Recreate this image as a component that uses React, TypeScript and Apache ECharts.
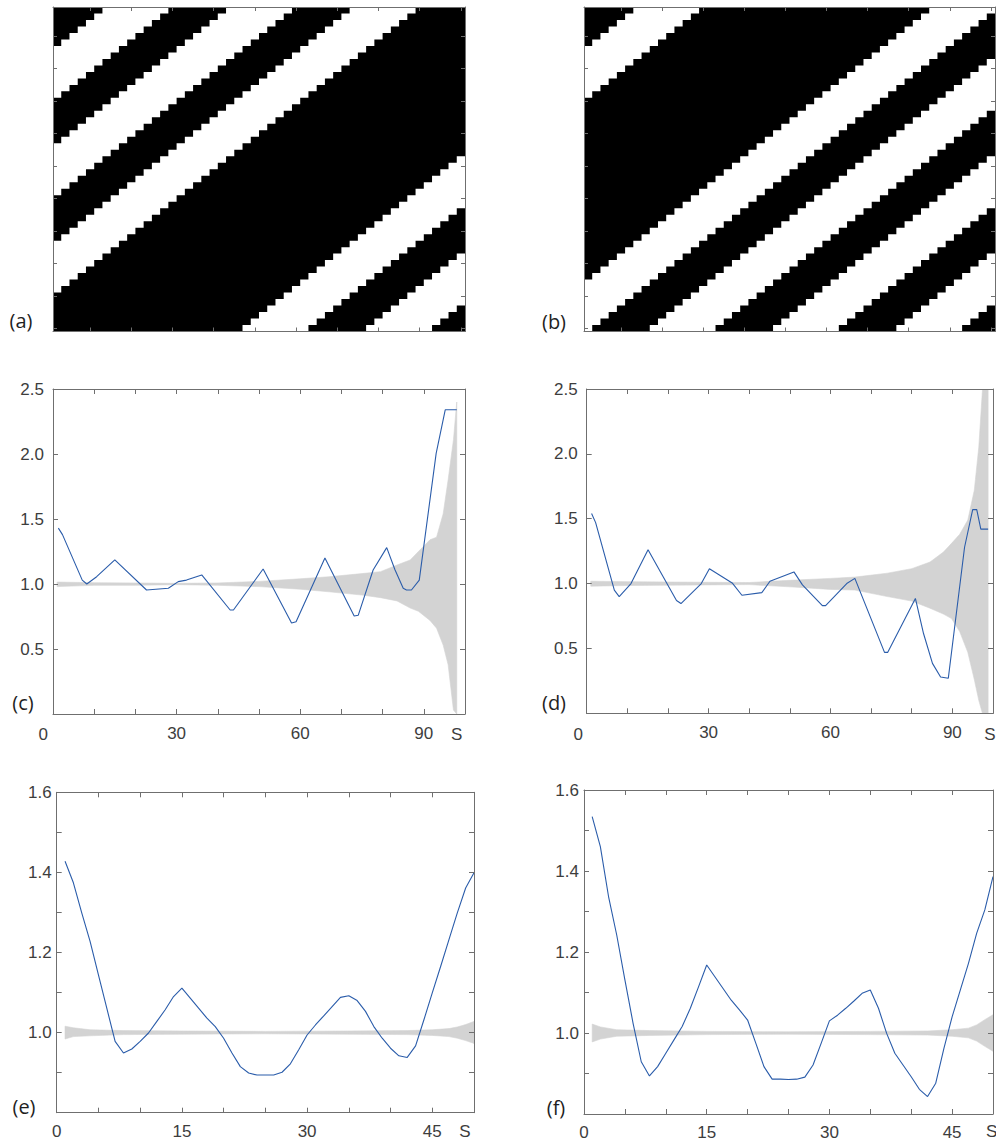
import React, { useEffect, useRef } from "react";
import * as echarts from "echarts";

// ---------- data ----------
// Panels (a),(b): 50x50 binary images; runs of equal cells along anti-diagonals
// (row+col), starting top-left, alternating black / white.
const stripeRunsA = [6, 8, 7, 8, 7, 8, 28, 8, 7, 8, 4];
const stripeRunsB = [6, 8, 28, 8, 7, 8, 7, 8, 7, 8, 4];
const cellCategories = Array.from({ length: 50 }, (_, i) => String(i + 1));

// Panel (c)
const lineCX = [1.3, 2.3, 7.1, 8.2, 10.6, 15.0, 22.7, 28.0, 30.4, 32.4, 36.1, 43.0, 43.8, 51.0, 57.9, 59.0, 66.0, 73.1, 74.1, 77.7, 81.0, 83.0, 85.0, 85.8, 87.0, 88.9, 93.0, 95.2, 98.0];
const lineCY = [1.43, 1.38, 1.03, 1.0, 1.056, 1.185, 0.954, 0.967, 1.018, 1.03, 1.07, 0.8, 0.8, 1.115, 0.7, 0.71, 1.2, 0.754, 0.76, 1.108, 1.28, 1.11, 0.967, 0.954, 0.954, 1.03, 2.005, 2.34, 2.34];
const bandCX = [1, 10, 20, 30, 40, 50, 60, 67, 75, 79.5, 83.5, 86.7, 88.7, 91.5, 93.1, 94.7, 95.9, 97.2, 98];
const bandCUpper = [1.015, 1.01, 1.008, 1.005, 1.008, 1.02, 1.04, 1.056, 1.08, 1.095, 1.146, 1.185, 1.25, 1.34, 1.36, 1.54, 1.8, 2.11, 2.4];
const bandCLower = [0.98, 0.99, 0.99, 0.995, 0.99, 0.98, 0.96, 0.94, 0.915, 0.895, 0.87, 0.815, 0.79, 0.72, 0.66, 0.53, 0.38, 0.03, 0.0];

// Panel (d)
const lineDX = [1.2, 2.2, 6.8, 8.0, 10.9, 15.1, 19.3, 22.1, 23.2, 28.2, 30.2, 35.8, 38.2, 43.1, 45.1, 51.0, 53.1, 58.0, 58.8, 64.0, 66.0, 73.3, 74.1, 80.9, 82.9, 85.1, 87.1, 89.0, 93.0, 95.0, 96.0, 97.0, 98.8];
const lineDY = [1.54, 1.47, 0.95, 0.9, 1.0, 1.26, 1.025, 0.87, 0.846, 1.0, 1.115, 1.005, 0.91, 0.93, 1.018, 1.09, 0.99, 0.83, 0.83, 1.0, 1.04, 0.47, 0.47, 0.885, 0.615, 0.385, 0.28, 0.27, 1.28, 1.57, 1.57, 1.42, 1.42];
const bandDX = [1, 10, 20, 30, 40, 50, 60, 66, 74, 80, 84.5, 87.8, 89.8, 91.8, 93.8, 95.4, 96.5, 97.4, 98.8];
const bandDUpper = [1.018, 1.015, 1.012, 1.01, 1.008, 1.025, 1.04, 1.05, 1.08, 1.115, 1.166, 1.243, 1.31, 1.38, 1.49, 1.72, 2.05, 2.49, 2.7];
const bandDLower = [0.98, 0.985, 0.988, 0.99, 0.992, 0.975, 0.955, 0.95, 0.9, 0.865, 0.81, 0.765, 0.73, 0.63, 0.47, 0.26, 0.1, 0.0, 0.0];

// Panel (e): values at s = 1..50
const lineEY = [1.428, 1.374, 1.299, 1.228, 1.144, 1.061, 0.978, 0.949, 0.959, 0.978, 0.999, 1.028, 1.057, 1.09, 1.111, 1.086, 1.061, 1.036, 1.015, 0.986, 0.949, 0.915, 0.899, 0.894, 0.894, 0.894, 0.901, 0.922, 0.957, 0.994, 1.019, 1.042, 1.065, 1.088, 1.092, 1.08, 1.053, 1.015, 0.986, 0.961, 0.942, 0.938, 0.967, 1.032, 1.099, 1.165, 1.232, 1.299, 1.361, 1.399];
const bandEX = [1, 2, 4, 8, 15, 25, 35, 42, 45, 47, 48, 49, 50];
const bandEUpper = [1.016, 1.012, 1.007, 1.005, 1.004, 1.003, 1.004, 1.005, 1.007, 1.01, 1.014, 1.02, 1.028];
const bandELower = [0.984, 0.99, 0.992, 0.995, 0.996, 0.997, 0.996, 0.995, 0.993, 0.99, 0.986, 0.98, 0.973];

// Panel (f): values at s = 1..50
const lineFY = [1.534, 1.46, 1.337, 1.242, 1.131, 1.024, 0.929, 0.894, 0.917, 0.95, 0.983, 1.016, 1.061, 1.114, 1.168, 1.139, 1.11, 1.081, 1.057, 1.032, 0.975, 0.917, 0.886, 0.886, 0.885, 0.886, 0.891, 0.921, 0.975, 1.03, 1.044, 1.061, 1.079, 1.098, 1.106, 1.061, 0.999, 0.95, 0.921, 0.892, 0.861, 0.843, 0.876, 0.962, 1.04, 1.106, 1.172, 1.246, 1.304, 1.386];
const bandFX = [1, 2, 4, 8, 15, 25, 35, 42, 45, 47, 48, 49, 50];
const bandFUpper = [1.022, 1.015, 1.008, 1.006, 1.004, 1.003, 1.004, 1.005, 1.008, 1.012, 1.02, 1.033, 1.045];
const bandFLower = [0.978, 0.985, 0.992, 0.994, 0.996, 0.997, 0.996, 0.995, 0.992, 0.988, 0.98, 0.967, 0.955];

const panelLabels = ["(a)", "(b)", "(c)", "(d)", "(e)", "(f)"];

// ---------- styling ----------
const AXIS_COLOR = "#6f6f6f";
const LABEL_COLOR = "#3d3d3d";
const BLUE = "#2a5caa";
const BAND = "#d3d3d3";
const FONT = "'Liberation Sans', Arial, sans-serif";
const PANEL_FONT = "'Open Sans', 'Noto Sans', sans-serif";
const N = 50;

// Black diagonal stripes as [anchorCol, anchorRow, kStart, kEnd] (k = row + col, 0-based)
function blackDiagonals(runs: number[]) {
  const out: number[][] = [];
  let k = 0;
  runs.forEach((len, i) => {
    if (i % 2 === 0) out.push([0, 0, k, k + len - 1]);
    k += len;
  });
  return out;
}

const zip = (xs: number[], ys: number[]) => xs.map((x, i) => [x, ys[i]]);
const idxZip = (ys: number[]) => ys.map((y, i) => [i + 1, y]);

const axisLine = { show: true, onZero: false, lineStyle: { color: AXIS_COLOR, width: 1 } };

function catAxis(gridIndex: number, dim: "x" | "y", position: string) {
  return {
    type: "category",
    gridIndex,
    data: cellCategories,
    position,
    inverse: dim === "y",
    z: 10,
    axisLine,
    splitLine: { show: false },
    axisLabel: { show: false },
    axisTick: {
      show: true,
      inside: true,
      length: 4,
      alignWithLabel: true,
      interval: (i: number) => (i + 1) % 5 === 0,
      lineStyle: { color: AXIS_COLOR },
    },
  };
}

function valAxis(
  gridIndex: number,
  min: number,
  max: number,
  interval: number,
  position: string,
  fmt: ((v: number) => string) | null,
  margin = 8
) {
  return {
    type: "value",
    gridIndex,
    min,
    max,
    interval,
    position,
    z: 10,
    axisLine,
    splitLine: { show: false },
    axisTick: { show: true, inside: true, length: 5, lineStyle: { color: AXIS_COLOR } },
    axisLabel: fmt
      ? { show: true, formatter: fmt, margin, color: LABEL_COLOR, fontSize: 17, fontFamily: FONT, showMinLabel: true, showMaxLabel: true }
      : { show: false },
  };
}

const fmtX100 = (v: number) => (v === 30 || v === 60 || v === 90 ? String(v) : "");
const fmtY25 = (v: number) => (Math.abs(v) < 1e-9 ? "" : v.toFixed(1));
const fmtX50 = (v: number) => {
  const t = Math.round(v);
  return t % 15 === 0 && t < 50 ? String(t) : "";
};
const fmtY16 = (v: number) => {
  const t = Math.round(v * 10);
  return t >= 10 && t % 2 === 0 ? (t / 10).toFixed(1) : "";
};

// Envelope band drawn as one polygon through the library's coordinate mapping
function bandSeries(g: number, xs: number[], lo: number[], hi: number[]) {
  return {
    type: "custom",
    xAxisIndex: 2 * g,
    yAxisIndex: 2 * g,
    data: xs.map((x, i) => [x, lo[i], hi[i]]),
    encode: { x: 0, y: [1, 2] },
    clip: true,
    silent: true,
    z: 1,
    renderItem: (params: any, api: any) => {
      if (params.dataIndex !== 0) return null;
      const top = xs.map((x, i) => api.coord([x, hi[i]]));
      const bottom = xs.map((x, i) => api.coord([x, lo[i]])).reverse();
      return {
        type: "polygon",
        shape: { points: top.concat(bottom) },
        style: { fill: BAND, stroke: BAND, lineWidth: 0.6 },
      };
    },
  };
}

function lineSeries(g: number, data: number[][]) {
  return {
    type: "line",
    xAxisIndex: 2 * g,
    yAxisIndex: 2 * g,
    data,
    symbol: "none",
    silent: true,
    lineStyle: { color: BLUE, width: 1.1 },
    z: 3,
  };
}

// Each black diagonal stripe is one staircase polygon built from cell coordinates
function stripeSeries(g: number, stripes: number[][]) {
  return {
    type: "custom",
    xAxisIndex: 2 * g,
    yAxisIndex: 2 * g,
    data: stripes,
    clip: true,
    silent: true,
    encode: { x: 0, y: 1 },
    renderItem: (_params: any, api: any) => {
      const k0 = api.value(2);
      const k1 = api.value(3);
      const s = api.size([1, 1]);
      const hw = s[0] / 2;
      const hh = s[1] / 2;
      const right: number[][] = [];
      const left: number[][] = [];
      for (let r = 0; r < N; r++) {
        const cs = Math.max(0, k0 - r);
        const ce = Math.min(N - 1, k1 - r);
        if (cs > ce) continue;
        const pr = api.coord([ce, r]);
        const pl = api.coord([cs, r]);
        right.push([pr[0] + hw, pr[1] - hh], [pr[0] + hw, pr[1] + hh]);
        left.push([pl[0] - hw, pl[1] - hh], [pl[0] - hw, pl[1] + hh]);
      }
      return {
        type: "polygon",
        shape: { points: right.concat(left.reverse()) },
        style: { fill: "#000" },
      };
    },
  };
}

function txt(text: string, x: number, y: number, fontSize: number, font: string, color: string) {
  return {
    type: "text",
    x,
    y,
    z: 20,
    style: { text, fontSize, fontFamily: font, fill: color, align: "center", verticalAlign: "middle" },
  };
}

function buildOption() {
  const grids = [
    { left: 53, top: 7, width: 412, height: 324.5 },
    { left: 584, top: 7, width: 411, height: 324.5 },
    { left: 53, top: 389, width: 412, height: 325 },
    { left: 586.7, top: 389, width: 414, height: 324.3 },
    { left: 56.7, top: 792.3, width: 417.3, height: 320.4 },
    { left: 584, top: 790, width: 411.5, height: 324 },
  ];

  const xAxes: any[] = [];
  const yAxes: any[] = [];
  for (let g = 0; g < 2; g++) {
    xAxes.push(catAxis(g, "x", "bottom"), catAxis(g, "x", "top"));
    yAxes.push(catAxis(g, "y", "left"), catAxis(g, "y", "right"));
  }
  for (let g = 2; g < 4; g++) {
    xAxes.push(valAxis(g, 0, 100, 10, "bottom", fmtX100, 11), valAxis(g, 0, 100, 10, "top", null));
    yAxes.push(valAxis(g, 0, 2.5, 0.5, "left", fmtY25, 9), valAxis(g, 0, 2.5, 0.5, "right", null));
  }
  for (let g = 4; g < 6; g++) {
    xAxes.push(valAxis(g, 0, 50, 5, "bottom", fmtX50, 10), valAxis(g, 0, 50, 5, "top", null));
    yAxes.push(valAxis(g, 0.8, 1.6, 0.1, "left", fmtY16, 5), valAxis(g, 0.8, 1.6, 0.1, "right", null));
  }

  const series: any[] = [
    stripeSeries(0, blackDiagonals(stripeRunsA)),
    stripeSeries(1, blackDiagonals(stripeRunsB)),
    bandSeries(2, bandCX, bandCLower, bandCUpper),
    lineSeries(2, zip(lineCX, lineCY)),
    bandSeries(3, bandDX, bandDLower, bandDUpper),
    lineSeries(3, zip(lineDX, lineDY)),
    bandSeries(4, bandEX, bandELower, bandEUpper),
    lineSeries(4, idxZip(lineEY)),
    bandSeries(5, bandFX, bandFLower, bandFUpper),
    lineSeries(5, idxZip(lineFY)),
  ];

  const panelPos = [
    [21, 320],
    [554, 321],
    [23, 702],
    [554, 702.5],
    [24, 1106],
    [556, 1107.5],
  ];
  const graphic: any[] = panelLabels.map((t, i) =>
    txt(t, panelPos[i][0], panelPos[i][1], 20, PANEL_FONT, "#1f1f1f")
  );
  graphic.push(
    txt("0", 43.3, 734.5, 17, FONT, LABEL_COLOR),
    txt("0", 578.3, 734.5, 17, FONT, LABEL_COLOR),
    txt("S", 456.7, 734.5, 17, FONT, LABEL_COLOR),
    txt("S", 990, 734.5, 17, FONT, LABEL_COLOR),
    txt("S", 465, 1131.7, 17, FONT, LABEL_COLOR),
    txt("S", 991.7, 1131.7, 17, FONT, LABEL_COLOR)
  );

  return {
    animation: false,
    backgroundColor: "#ffffff",
    textStyle: { fontFamily: FONT },
    grid: grids.map((g) => ({ ...g, containLabel: false })),
    xAxis: xAxes,
    yAxis: yAxes,
    series,
    graphic,
  };
}

export default function App() {
  const ref = useRef<HTMLDivElement>(null);
  useEffect(() => {
    if (!ref.current) return;
    const chart = echarts.init(ref.current, null, { renderer: "svg" });
    chart.setOption(buildOption() as any);
    return () => chart.dispose();
  }, []);
  return (
    <div
      ref={ref}
      style={{ position: "absolute", left: 0, top: 0, width: 996, height: 1141, background: "#fff" }}
    />
  );
}
